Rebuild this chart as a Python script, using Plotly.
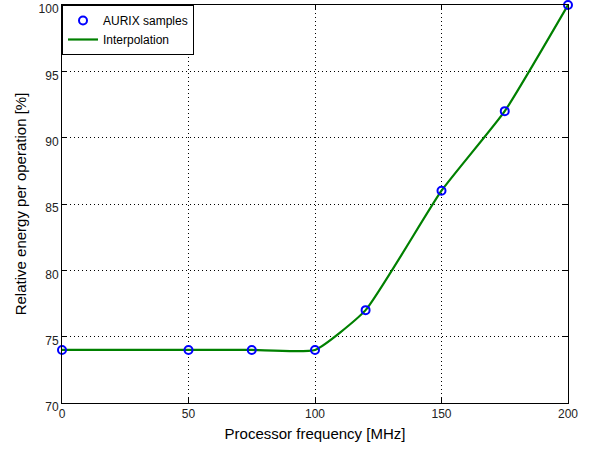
import plotly.graph_objects as go

freq_mhz = [0, 50, 75, 100, 120, 150, 175, 200]
rel_energy = [74, 74, 74, 74, 77, 86, 92, 100]

x_ticks = [0, 50, 100, 150, 200]
y_ticks = [70, 75, 80, 85, 90, 95, 100]

fig = go.Figure()
fig.add_trace(go.Scatter(
    x=freq_mhz, y=rel_energy, mode="lines", name="Interpolation",
    line=dict(color="#008000", width=2.2, shape="spline", smoothing=0.45),
))
fig.add_trace(go.Scatter(
    x=freq_mhz, y=rel_energy, mode="markers", name="AURIX samples",
    marker=dict(symbol="circle-open", color="#0000ff", size=8, line=dict(width=2)),
    cliponaxis=False,
))

axis_common = dict(
    showline=True, linecolor="black", linewidth=1, mirror="ticks",
    ticks="inside", ticklen=5, tickcolor="black",
    showgrid=True, gridcolor="black", griddash="1px,3px", gridwidth=1,
    zeroline=False, tickfont=dict(size=12, color="#222"), automargin=False,
    ticklabeloverflow="allow",
)

fig.update_layout(
    width=593, height=449,
    margin=dict(l=62, r=25, t=5, b=46),
    paper_bgcolor="white", plot_bgcolor="white",
    font=dict(family="Liberation Sans, Arial, sans-serif", color="black"),
    xaxis=dict(range=[0, 200], tickvals=x_ticks,
               title=dict(text="Processor frequency [MHz]", font=dict(size=15), standoff=8),
               **axis_common),
    yaxis=dict(range=[70, 100], tickvals=y_ticks, ticklabelshift=4,
               title=dict(text="Relative energy per operation [%]", font=dict(size=15), standoff=8),
               **axis_common),
    legend=dict(x=0, y=1, xanchor="left", yanchor="top",
                bgcolor="white", bordercolor="black", borderwidth=1,
                font=dict(size=12), traceorder="reversed",
                tracegroupgap=0, itemwidth=30),
)

fig.write_html("out.html", config={"displayModeBar": False},
               post_script="document.body.style.margin='0px';")
